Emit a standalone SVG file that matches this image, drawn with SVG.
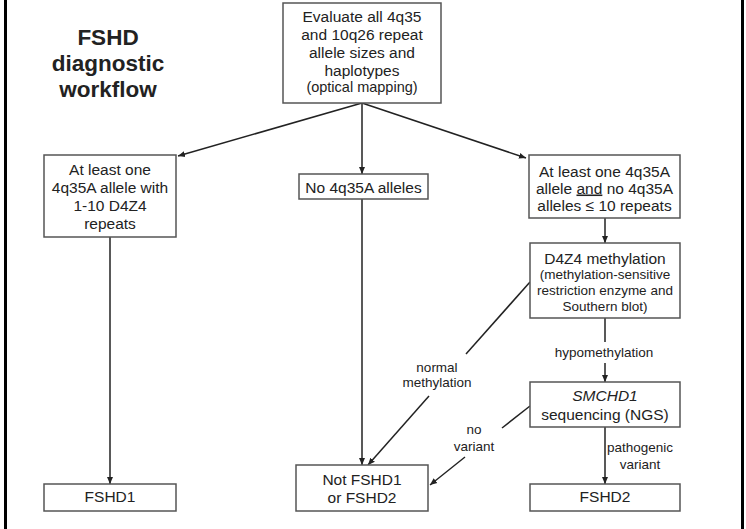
<svg xmlns="http://www.w3.org/2000/svg" width="746" height="529" viewBox="0 0 746 529">
<style>
.box{fill:#fff;stroke:#555;stroke-width:1.5}
.t{font-family:"Liberation Sans",Arial,sans-serif;font-size:15.5px;fill:#222;text-anchor:middle}
.s{font-size:13.5px}
.s2{font-size:14.5px}
.lbl{font-family:"Liberation Sans",Arial,sans-serif;font-size:13.5px;fill:#222;text-anchor:middle}
.title{font-family:"Liberation Sans",Arial,sans-serif;font-size:22.5px;font-weight:bold;fill:#222;text-anchor:middle}
.c{stroke:#222;stroke-width:1.5;fill:none}
.ca{stroke:#222;stroke-width:1.5;fill:none;marker-end:url(#ah)}
</style>
<defs>
<marker id="ah" markerWidth="8" markerHeight="8" refX="7" refY="4" orient="auto" markerUnits="userSpaceOnUse">
<path d="M0,1 L7,4 L0,7 Z" fill="#222"/>
</marker>
</defs>
<rect x="0" y="0" width="746" height="529" fill="#fff"/>
<rect x="4" y="0" width="3" height="529" fill="#000"/>
<rect x="741" y="0" width="3" height="529" fill="#000"/>

<g id="title">
<text class="title" x="108" y="45">FSHD</text>
<text class="title" x="108" y="71">diagnostic</text>
<text class="title" x="108" y="97">workflow</text>
</g>

<g id="connectors">
<line class="ca" x1="362" y1="103" x2="178" y2="156"/>
<line class="ca" x1="362" y1="103" x2="362" y2="174"/>
<line class="ca" x1="362" y1="103" x2="526" y2="158"/>
<line class="ca" x1="110" y1="237" x2="110" y2="484"/>
<line class="ca" x1="362" y1="199" x2="362" y2="465"/>
<line class="ca" x1="605" y1="218" x2="605" y2="243"/>
<line class="c" x1="605" y1="318" x2="605" y2="342"/>
<line class="ca" x1="605" y1="363" x2="605" y2="382"/>
<line class="c" x1="530" y1="282" x2="466" y2="354"/>
<line class="ca" x1="429" y1="396" x2="368" y2="465"/>
<line class="c" x1="530" y1="406" x2="502" y2="428"/>
<line class="ca" x1="465" y1="457" x2="430" y2="485"/>
<line class="ca" x1="605" y1="427" x2="605" y2="484"/>
<text class="lbl" x="604" y="357">hypomethylation</text>
<text class="lbl" x="437" y="372">normal</text>
<text class="lbl" x="437" y="387">methylation</text>
<text class="lbl" x="474" y="434">no</text>
<text class="lbl" x="474" y="451">variant</text>
<text class="lbl" x="640" y="452">pathogenic</text>
<text class="lbl" x="640" y="469">variant</text>
</g>

<g id="evaluate">
<rect class="box" x="283" y="3" width="158" height="100"/>
<text class="t" x="362" y="21.5">Evaluate all 4q35</text>
<text class="t" x="362" y="39.5">and 10q26 repeat</text>
<text class="t" x="362" y="57.5">allele sizes and</text>
<text class="t" x="362" y="75.5">haplotypes</text>
<text class="t s2" x="362" y="92">(optical mapping)</text>
</g>

<g id="atleast1">
<rect class="box" x="44" y="155" width="132" height="82"/>
<text class="t" x="110" y="174.5">At least one</text>
<text class="t" x="110" y="192.5">4q35A allele with</text>
<text class="t" x="110" y="210.5">1-10 D4Z4</text>
<text class="t" x="110" y="228.5">repeats</text>
</g>

<g id="no4q35a">
<rect class="box" x="299" y="174" width="129" height="25"/>
<text class="t" x="363.5" y="192.5">No 4q35A alleles</text>
</g>

<g id="atleast2">
<rect class="box" x="529" y="155" width="151" height="63"/>
<text class="t" x="604.5" y="176.5">At least one 4q35A</text>
<text class="t" x="604.5" y="193.5">allele <tspan text-decoration="underline">and</tspan> no 4q35A</text>
<text class="t" x="604.5" y="210.5">alleles ≤ 10 repeats</text>
</g>

<g id="d4z4">
<rect class="box" x="530" y="243" width="150" height="75"/>
<text class="t" x="605" y="263.5">D4Z4 methylation</text>
<text class="t s" x="605" y="279">(methylation-sensitive</text>
<text class="t s" x="605" y="295">restriction enzyme and</text>
<text class="t s" x="605" y="311">Southern blot)</text>
</g>

<g id="smchd1">
<rect class="box" x="530" y="382" width="150" height="45"/>
<text class="t" x="605" y="401"><tspan font-style="italic">SMCHD1</tspan></text>
<text class="t" x="605" y="419.5">sequencing (NGS)</text>
</g>

<g id="fshd1">
<rect class="box" x="44" y="484" width="132" height="27"/>
<text class="t" x="110" y="502">FSHD1</text>
</g>

<g id="notfshd">
<rect class="box" x="296" y="465" width="132" height="46"/>
<text class="t" x="362" y="484.5">Not FSHD1</text>
<text class="t" x="362" y="502.5">or FSHD2</text>
</g>

<g id="fshd2">
<rect class="box" x="530" y="484" width="150" height="27"/>
<text class="t" x="605" y="502">FSHD2</text>
</g>
</svg>
